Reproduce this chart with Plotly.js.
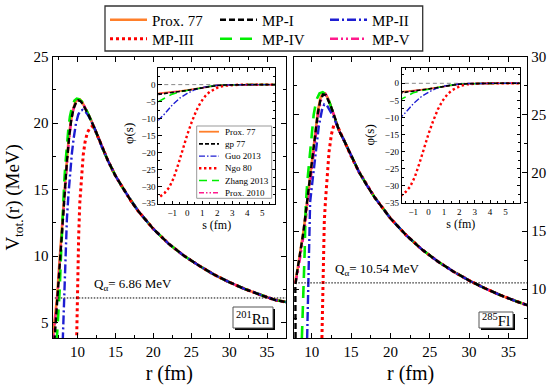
<!DOCTYPE html>
<html>
<head>
<meta charset="utf-8">
<script src="https://cdn.plot.ly/plotly-3.0.1.min.js"></script>
<style>
  html, body { margin: 0; padding: 0; background: #fff; }
  #myChart { width: 555px; height: 388px; }
</style>
</head>
<body>
<div id="myChart"></div>
<script>
// names shown in the two legends
const mainNames = ["Prox. 77", "MP-I", "MP-II", "MP-III", "MP-IV", "MP-V"];
const insetNames = ["Prox. 77", "gp 77", "Guo 2013", "Ngo 80", "Zhang 2013", "Prox. 2010"];

// 201Rn panel, inner part of each barrier (r in fm, V in MeV)
const rnProxR = [6.7, 7.0, 7.3, 7.6, 7.9, 8.2, 8.5, 8.8, 9.1, 9.4, 9.7, 10.0, 10.3, 10.6, 11.0, 11.5, 12.0];
const rnProxV = [3.6, 5.2, 6.9, 9.4, 12.0, 14.3, 16.5, 18.6, 20.1, 21.0, 21.55, 21.8, 21.8, 21.6, 21.2, 20.6, 19.95];
const rnMp1R = [6.95, 7.15, 7.4, 7.7, 8.0, 8.3, 8.6, 8.9, 9.2, 9.5, 9.8, 10.1, 10.4, 10.7, 11.1, 11.5, 12.0];
const rnMp1V = [3.6, 5.2, 7.2, 10.0, 12.6, 14.9, 17.1, 19.0, 20.35, 21.15, 21.55, 21.72, 21.65, 21.45, 21.05, 20.55, 19.95];
const rnMp2R = [8.05, 8.15, 8.3, 8.45, 8.6, 8.8, 9.0, 9.25, 9.5, 9.8, 10.1, 10.4, 10.7, 11.0, 11.4, 11.8, 12.2];
const rnMp2V = [3.6, 5.5, 8.3, 10.8, 12.8, 14.6, 16.1, 17.7, 18.9, 20.0, 20.65, 20.95, 21.0, 20.9, 20.6, 20.2, 19.7];
const rnMp3R = [9.88, 9.95, 10.05, 10.15, 10.3, 10.5, 10.75, 11.0, 11.3, 11.6, 11.9, 12.2];
const rnMp3V = [3.6, 6.0, 9.0, 11.5, 14.0, 16.0, 17.6, 18.6, 19.3, 19.6, 19.75, 19.65];
const rnMp4R = [7.25, 7.45, 7.65, 7.8, 7.95, 8.1, 8.25, 8.4, 8.6, 8.8, 9.0, 9.3, 9.6, 9.9, 10.2, 10.6, 11.0, 11.5, 12.0];
const rnMp4V = [3.6, 5.2, 7.5, 9.8, 12.0, 14.0, 15.6, 16.9, 18.4, 19.6, 20.5, 21.3, 21.7, 21.85, 21.8, 21.6, 21.2, 20.6, 19.95];
const rnMp5R = [6.75, 7.05, 7.35, 7.65, 7.95, 8.25, 8.55, 8.85, 9.15, 9.45, 9.75, 10.05, 10.35, 10.65, 11.05, 11.5, 12.0];
const rnMp5V = [3.6, 5.2, 6.9, 9.4, 12.0, 14.3, 16.5, 18.6, 20.1, 21.0, 21.5, 21.75, 21.75, 21.55, 21.15, 20.6, 19.95];
// outer (coulomb) part, all six curves sit on top of each other here
const rnTailR = [12.5, 13, 14, 15, 16, 17, 18, 20, 22, 24, 26, 28, 30, 32, 34, 36, 37.5];
const rnTailV = [19.25, 18.5, 17.2, 16.05, 15.1, 14.2, 13.4, 12.05, 10.95, 10.05, 9.3, 8.62, 8.05, 7.55, 7.12, 6.72, 6.55];
const rnQ = 6.86;
const rnQR = [7.0, 37.5];

// 285Fl panel
const flProxR = [7.75, 7.9, 8.2, 8.6, 9.0, 9.4, 9.8, 10.2, 10.5, 10.8, 11.1, 11.4, 11.7, 12.0, 12.4, 12.8, 13.2];
const flProxV = [10.55, 10.6, 11.7, 13.4, 15.2, 17.4, 19.7, 22.0, 23.9, 25.4, 26.4, 26.9, 26.85, 26.5, 25.8, 25.0, 24.2];
const flMp1R = [7.95, 7.9, 7.92, 8.15, 8.5, 8.9, 9.3, 9.7, 10.1, 10.5, 10.8, 11.1, 11.45, 11.8, 12.1, 12.45, 12.85, 13.2];
const flMp1V = [5.8, 8.0, 10.3, 11.5, 12.9, 14.7, 16.9, 19.1, 21.4, 23.8, 25.25, 26.25, 26.75, 26.7, 26.3, 25.7, 24.95, 24.2];
const flMp2R = [9.42, 9.5, 9.58, 9.67, 9.8, 10.1, 10.5, 10.9, 11.3, 11.6, 11.95, 12.3, 12.7, 13.1];
const flMp2V = [5.8, 9.0, 12.5, 15.5, 17.5, 19.3, 21.6, 24.0, 25.4, 25.9, 25.8, 25.4, 24.9, 24.3];
const flMp3R = [11.3, 11.35, 11.42, 11.5, 11.6, 11.75, 11.95, 12.2, 12.5, 12.8, 13.1, 13.3];
const flMp3V = [5.8, 8.0, 10.8, 13.5, 15.8, 17.6, 19.8, 21.8, 23.3, 24.1, 24.3, 24.0];
const flMp4R = [8.75, 8.85, 8.95, 9.05, 9.12, 9.18, 9.25, 9.45, 9.8, 10.25, 10.6, 11.0, 11.4, 11.8, 12.2, 12.6, 13.0];
const flMp4V = [5.8, 7.5, 9.5, 11.5, 13.5, 15.5, 17.3, 19.3, 22.0, 25.0, 26.3, 26.85, 26.95, 26.75, 26.2, 25.45, 24.6];
const flMp5R = [7.8, 7.95, 8.3, 8.7, 9.1, 9.5, 9.9, 10.3, 10.6, 10.9, 11.2, 11.45, 11.75, 12.05, 12.45, 12.85, 13.2];
const flMp5V = [10.55, 10.6, 11.7, 13.4, 15.2, 17.4, 19.7, 22.0, 23.9, 25.3, 26.3, 26.8, 26.8, 26.45, 25.75, 24.95, 24.2];
const flTailR = [13.5, 14, 15, 16, 17, 18, 20, 22, 24, 26, 28, 30, 32, 34, 36, 37.4];
const flTailV = [23.6, 22.95, 21.45, 20.1, 18.95, 17.9, 16.1, 14.65, 13.42, 12.4, 11.52, 10.75, 10.08, 9.48, 8.96, 8.62];
const flQ = 10.54;
const flQR = [8.3, 37.4];

// universal functions phi(s) shown in the insets
const sGrid = [-1.95, -1.5, -1, -0.5, 0, 0.5, 1, 1.5, 2, 2.5, 3, 3.5, 4, 5, 6];
const phiProx77 = [-2.6, -2.45, -2.2, -1.95, -1.65, -1.3, -0.9, -0.5, -0.25, -0.12, -0.06, -0.03, -0.01, 0, 0];
const phiGp77 = [-2.9, -2.65, -2.32, -2.0, -1.7, -1.32, -0.92, -0.52, -0.27, -0.13, -0.06, -0.03, -0.01, 0, 0];
const phiGuo = [-10.6, -8.6, -6.0, -4.0, -2.6, -1.5, -0.8, -0.4, -0.2, -0.08, -0.03, -0.01, 0, 0, 0];
const phiZhang = [-5.1, -3.9, -2.8, -2.15, -1.7, -1.3, -0.9, -0.5, -0.25, -0.12, -0.06, -0.03, -0.01, 0, 0];
const phiProx2010 = [-2.7, -2.5, -2.25, -1.95, -1.65, -1.3, -0.9, -0.5, -0.25, -0.12, -0.06, -0.03, -0.01, 0, 0];
const ngoS = [-1.8, -1.5, -1.2, -0.9, -0.6, -0.3, 0, 0.3, 0.6, 0.9, 1.2, 1.5, 1.8, 2.1, 2.5, 3, 3.5, 4, 5, 6];
const phiNgo = [-33.0, -31.9, -30.3, -27.5, -23.5, -18.8, -14.8, -11.0, -7.7, -5.2, -3.4, -2.1, -1.3, -0.7, -0.3, -0.08, -0.02, 0, 0, 0];
const zeroS = [-2, 6];
const zeroPhi = [0, 0];

document.addEventListener("DOMContentLoaded", () => {
  const W = 555, H = 388;
  const px = (p) => p / W;       // pixel -> paper x
  const py = (p) => 1 - p / H;   // pixel -> paper y
  const serif = "Liberation Serif, Times New Roman, serif";

  // line styles, same order as the names
  const styles = [
    { color: "#ff7f2a", width: 2.6, dash: "solid" },
    { color: "#000000", width: 2.4, dash: "6px,3px" },
    { color: "#1e1ed2", width: 2.4, dash: "9px,3px,2px,3px" },
    { color: "#ff0000", width: 3, dash: "3px,3px" },
    { color: "#00ee00", width: 2.6, dash: "12px,8px" },
    { color: "#ff1a8c", width: 2.4, dash: "8px,3px,2px,3px,2px,3px" },
  ];
  const insetStyles = [
    { color: "#ff7f2a", width: 1.8, dash: "solid" },
    { color: "#000000", width: 1.6, dash: "4px,2px" },
    { color: "#1e1ed2", width: 1.4, dash: "6px,2px,1.5px,2px" },
    { color: "#ff0000", width: 2.4, dash: "2.4px,2.6px" },
    { color: "#00ee00", width: 1.6, dash: "8px,5px" },
    { color: "#ff1a8c", width: 1.4, dash: "5px,2px,1.5px,2px,1.5px,2px" },
  ];

  // join the inner part of a curve with the shared coulomb tail
  function withTail(r, v, tr, tv) {
    return [r.concat(tr), v.concat(tv)];
  }

  var rnCurves = [
    withTail(rnProxR, rnProxV, rnTailR, rnTailV),
    withTail(rnMp1R, rnMp1V, rnTailR, rnTailV),
    withTail(rnMp2R, rnMp2V, rnTailR, rnTailV),
    withTail(rnMp3R, rnMp3V, rnTailR, rnTailV),
    withTail(rnMp4R, rnMp4V, rnTailR, rnTailV),
    withTail(rnMp5R, rnMp5V, rnTailR, rnTailV),
  ];
  var flCurves = [
    withTail(flProxR, flProxV, flTailR, flTailV),
    withTail(flMp1R, flMp1V, flTailR, flTailV),
    withTail(flMp2R, flMp2V, flTailR, flTailV),
    withTail(flMp3R, flMp3V, flTailR, flTailV),
    withTail(flMp4R, flMp4V, flTailR, flTailV),
    withTail(flMp5R, flMp5V, flTailR, flTailV),
  ];
  var insetCurves = [
    [sGrid, phiProx77],
    [sGrid, phiGp77],
    [sGrid, phiGuo],
    [ngoS, phiNgo],
    [sGrid, phiZhang],
    [sGrid, phiProx2010],
  ];

  // drawing order: orange at the bottom, black dashes on top
  const drawOrder = [0, 5, 4, 3, 2, 1];
  var data = [];

  drawOrder.forEach((k) => {
    data.push({
      type: "scatter", mode: "lines",
      x: rnCurves[k][0], y: rnCurves[k][1],
      xaxis: "x", yaxis: "y",
      name: mainNames[k],
      line: styles[k],
      legend: k < 3 ? "legend" : "legend2",
      legendrank: k + 1,
      showlegend: true,
    });
  });
  drawOrder.forEach((k) => {
    data.push({
      type: "scatter", mode: "lines",
      x: flCurves[k][0], y: flCurves[k][1],
      xaxis: "x2", yaxis: "y2",
      name: mainNames[k], line: styles[k], showlegend: false,
    });
  });

  // Q-value lines
  data.push({ type: "scatter", mode: "lines", x: rnQR, y: [rnQ, rnQ], xaxis: "x", yaxis: "y",
    line: { color: "#000", width: 1, dash: "1.5px,1.5px" }, showlegend: false });
  data.push({ type: "scatter", mode: "lines", x: flQR, y: [flQ, flQ], xaxis: "x2", yaxis: "y2",
    line: { color: "#000", width: 1, dash: "1.5px,1.5px" }, showlegend: false });

  // insets
  [["x3", "y3"], ["x4", "y4"]].forEach((ax) => {
    data.push({ type: "scatter", mode: "lines", x: zeroS, y: zeroPhi, xaxis: ax[0], yaxis: ax[1],
      line: { color: "#888", width: 1, dash: "4px,3px" }, showlegend: false });
    drawOrder.forEach((k) => {
      data.push({
        type: "scatter", mode: "lines",
        x: insetCurves[k][0], y: insetCurves[k][1],
        xaxis: ax[0], yaxis: ax[1],
        name: insetNames[k], line: insetStyles[k], showlegend: false,
      });
    });
  });

  // common axis look: closed box, inside ticks on every side
  function axis(extra, size, minorStep) {
    return Object.assign({
      showline: true, linecolor: "#000", linewidth: 1, mirror: "allticks",
      ticks: "inside", ticklen: size > 10 ? 5 : 3.5, tickwidth: 1, tickcolor: "#000",
      showgrid: false, zeroline: false, tick0: 0,
      tickfont: { family: serif, size: size, color: "#000" },
      minor: { ticks: "inside", ticklen: size > 10 ? 3 : 2, dtick: minorStep, tickcolor: "#000", showgrid: false },
      fixedrange: true,
    }, extra);
  }

  // one legend row (plotly will not wrap three entries this narrow)
  function legendRow(yc) {
    return { x: px(105), y: py(yc), xanchor: "left", yanchor: "middle", orientation: "h",
      bgcolor: "rgba(0,0,0,0)", font: { family: serif, size: 15, color: "#000" },
      itemwidth: 37, entrywidth: 58, entrywidthmode: "pixels", itemclick: false };
  }

  var layout = {
    width: W, height: H,
    margin: { l: 0, r: 0, t: 0, b: 0 },
    paper_bgcolor: "#fff", plot_bgcolor: "#fff",
    font: { family: serif, color: "#000" },
    xaxis: axis({ domain: [px(52.5), px(286)], range: [6.7, 37.5], anchor: "y", dtick: 5,
      title: { text: "r (fm)", font: { size: 20 }, standoff: 6 } }, 15, 2.5),
    yaxis: axis({ domain: [py(338), py(56.7)], range: [3.85, 25], anchor: "x", dtick: 5,
      title: { text: "V<sub>tot.</sub>(r) (MeV)", font: { size: 19 }, standoff: 8 } }, 15, 2.5),
    xaxis2: axis({ domain: [px(294), px(527.3)], range: [7.75, 37.4], anchor: "y2", dtick: 5,
      title: { text: "r (fm)", font: { size: 20 }, standoff: 6 } }, 15, 2.5),
    yaxis2: axis({ domain: [py(338), py(56.7)], range: [5.8, 30], anchor: "x2", dtick: 5, side: "right" }, 15, 2.5),
    xaxis3: axis({ domain: [px(158.3), px(275)], range: [-1.93, 5.85], anchor: "y3", dtick: 1,
      title: { text: "s (fm)", font: { size: 12 }, standoff: 3 } }, 9, 0.5),
    yaxis3: axis({ domain: [py(204), py(68)], range: [-35.2, 4.9], anchor: "x3", dtick: 5 }, 9, 2.5),
    xaxis4: axis({ domain: [px(401.7), px(520)], range: [-1.75, 5.95], anchor: "y4", dtick: 1,
      title: { text: "s (fm)", font: { size: 12 }, standoff: 3 } }, 9, 0.5),
    yaxis4: axis({ domain: [py(203.3), py(68.3)], range: [-35.2, 4.4], anchor: "x4", dtick: 5 }, 9, 2.5),
    showlegend: true,
    legend: legendRow(20),
    legend2: legendRow(39),
    shapes: [],
    annotations: [],
  };

  // frame round the two-row legend
  layout.shapes.push({ type: "rect", xref: "paper", yref: "paper",
    x0: px(105), x1: px(422.7), y0: py(51), y1: py(6), line: { color: "#333", width: 1.3 } });

  // inset y titles, placed by hand because they sit further out than plotly puts them
  [[128, 134], [368.5, 135]].forEach((p) => {
    layout.annotations.push({ xref: "paper", yref: "paper", x: px(p[0]), y: py(p[1]),
      xanchor: "center", yanchor: "middle", textangle: -90, showarrow: false, text: "φ(s)",
      font: { family: serif, size: 13, color: "#000" } });
  });

  // nucleus labels with a drop shadow
  function nucleusBox(x0, y0, x1, y1, text) {
    layout.shapes.push({ type: "rect", xref: "paper", yref: "paper", layer: "above",
      x0: px(x0 + 2), x1: px(x1 + 2), y0: py(y1 + 2), y1: py(y0 + 2),
      fillcolor: "#000", line: { width: 0 } });
    layout.shapes.push({ type: "rect", xref: "paper", yref: "paper", layer: "above",
      x0: px(x0), x1: px(x1), y0: py(y1), y1: py(y0),
      fillcolor: "#fff", line: { color: "#555", width: 1 } });
    layout.annotations.push({ xref: "paper", yref: "paper", x: px((x0 + x1) / 2), y: py((y0 + y1) / 2),
      xanchor: "center", yanchor: "middle", showarrow: false, text: text,
      font: { family: serif, size: 15, color: "#000" } });
  }
  nucleusBox(233, 307, 273, 328, "<sup>201</sup>Rn");
  nucleusBox(479, 312, 513, 328, "<sup>285</sup>Fl");

  // Q-value labels
  layout.annotations.push({ xref: "x", yref: "y", x: 11.9, y: rnQ + 0.25, xanchor: "left", yanchor: "bottom",
    showarrow: false, text: "Q<sub>α</sub>= " + rnQ + " MeV", font: { family: serif, size: 13, color: "#000" } });
  layout.annotations.push({ xref: "x2", yref: "y2", x: 12.7, y: flQ + 0.25, xanchor: "left", yanchor: "bottom",
    showarrow: false, text: "Q<sub>α</sub>= " + flQ + " MeV", font: { family: serif, size: 13, color: "#000" } });

  // small legend inside the left inset
  layout.shapes.push({ type: "rect", xref: "paper", yref: "paper", layer: "above",
    x0: px(196.7), x1: px(271.7), y0: py(198.3), y1: py(126),
    fillcolor: "#fff", line: { color: "#999", width: 1 } });
  insetNames.forEach((name, k) => {
    var yc = 131.7 + k * 12.2;
    layout.shapes.push({ type: "line", xref: "paper", yref: "paper", layer: "above",
      x0: px(199), x1: px(219), y0: py(yc), y1: py(yc), line: insetStyles[k] });
    layout.annotations.push({ xref: "paper", yref: "paper", x: px(223), y: py(yc),
      xanchor: "left", yanchor: "middle", showarrow: false, text: name,
      font: { family: serif, size: 9, color: "#000" } });
  });

  const config = { displayModeBar: false, staticPlot: true };
  Plotly.newPlot("myChart", data, layout, config);
});
</script>
</body>
</html>
